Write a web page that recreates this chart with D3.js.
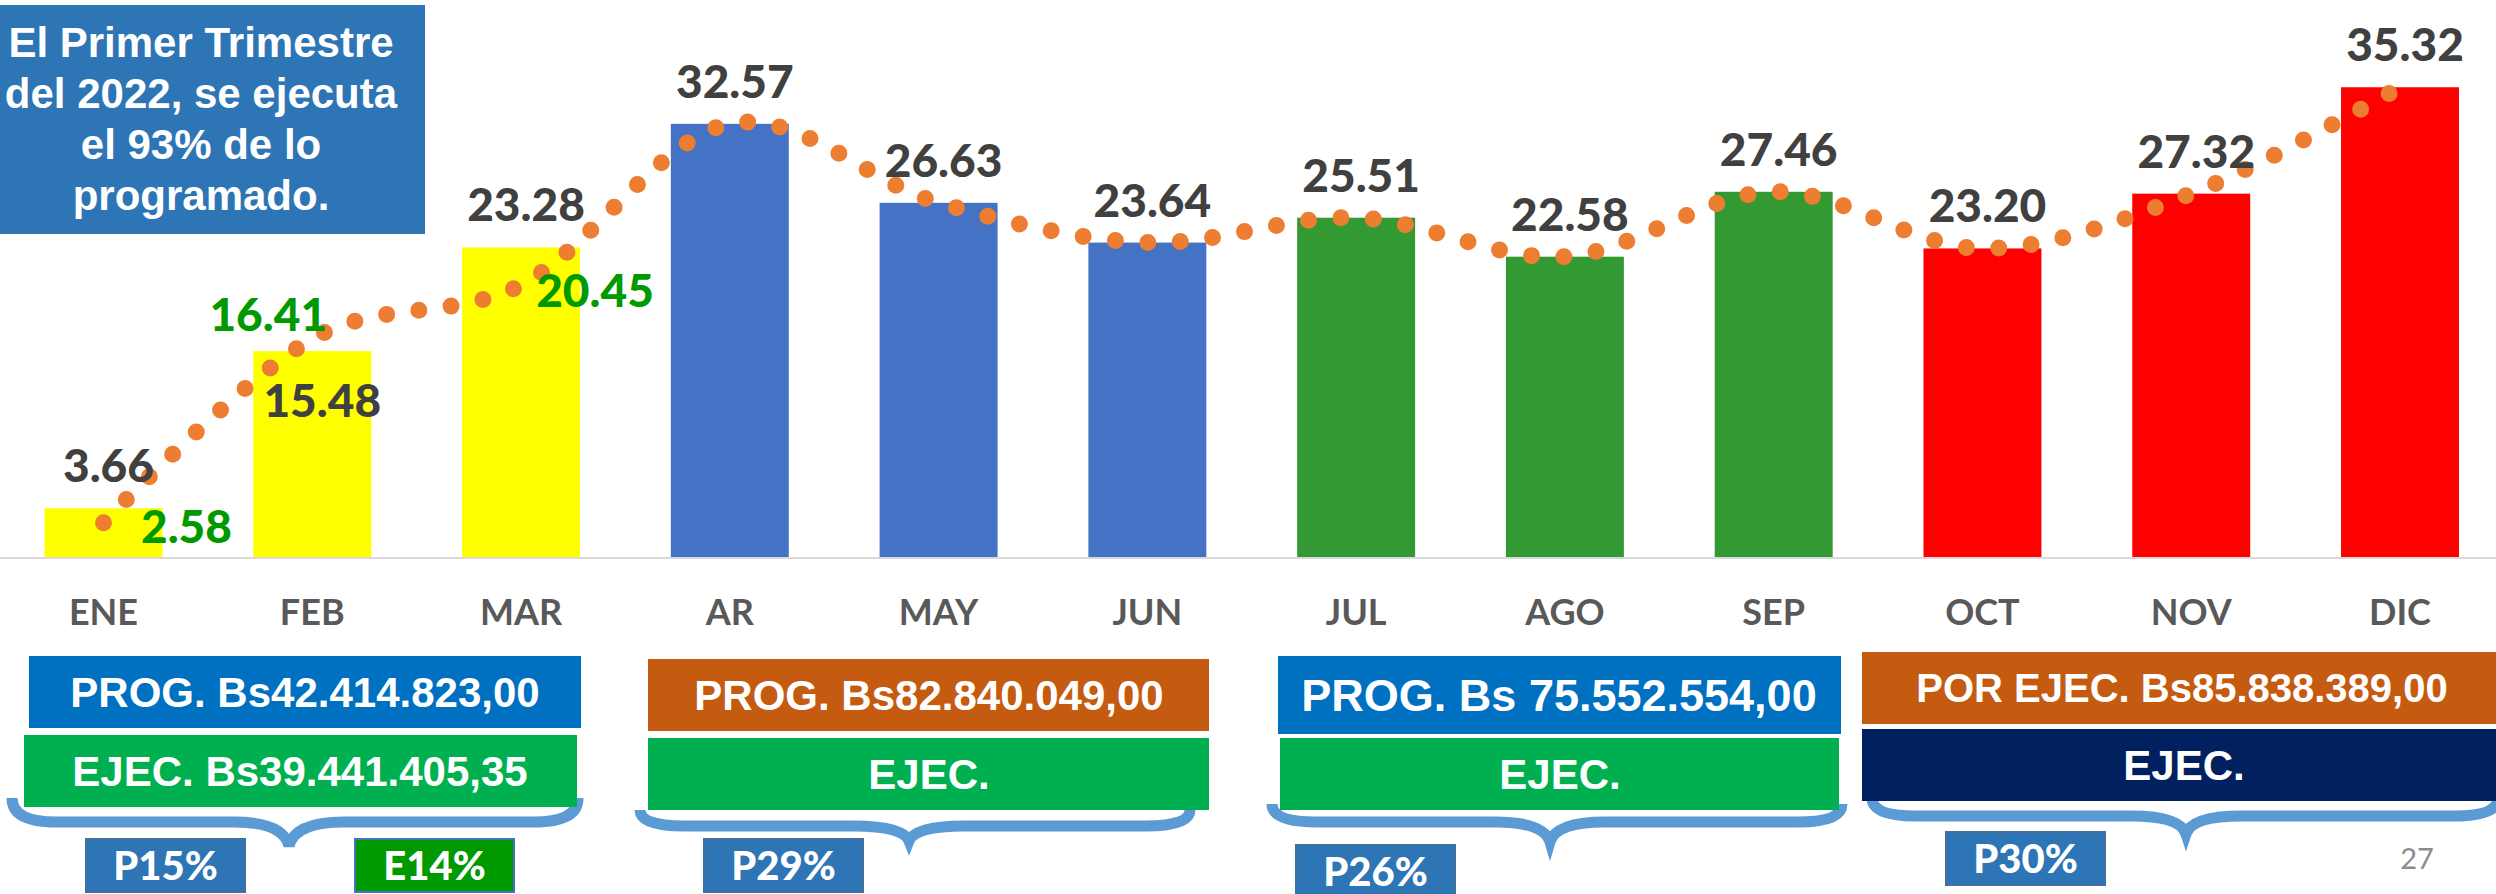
<!DOCTYPE html>
<html>
<head>
<meta charset="utf-8">
<script src="https://cdn.jsdelivr.net/npm/d3@7"></script>
<style>
  html,body{margin:0;padding:0;background:#fff;}
  svg{display:block;}
</style>
</head>
<body>
<svg id="chart" width="2496" height="894"></svg>
<script>
// ---------------- DATA ----------------
const months = ["ENE","FEB","MAR","AR","MAY","JUN","JUL","AGO","SEP","OCT","NOV","DIC"];
const programado = [3.66,15.48,23.28,32.57,26.63,23.64,25.51,22.58,27.46,23.20,27.32,35.32];
const ejecutado = [2.58,16.41,20.45];            // ENE..MAR executed
const tendencia = [2.58,16.41,20.45,32.57,26.63,23.64,25.51,22.58,27.46,23.20,27.32,35.32];
const quarterColors = ["#FFFF00","#4472C4","#339933","#FF0000"];
const titleLines = ["El Primer Trimestre","del 2022, se ejecuta","el 93% de lo","programado."];
const progTexts = ["PROG. Bs42.414.823,00","PROG. Bs82.840.049,00","PROG. Bs 75.552.554,00","POR EJEC. Bs85.838.389,00"];
const ejecTexts = ["EJEC. Bs39.441.405,35","EJEC.","EJEC.","EJEC."];
const pctTexts = ["P15%","E14%","P29%","P26%","P30%"];
const pageNumber = "27";

// ---------------- LAYOUT ----------------
const W = 2496, H = 894;
const svg = d3.select("#chart");
const x = d3.scaleBand().domain(months).range([-0.9, 2504.4]).paddingInner(0.435).paddingOuter(0.2175);
const y = d3.scaleLinear().domain([0, 40]).range([557, 25]);
const cx = m => x(m) + x.bandwidth()/2;

// label offsets (dx, dy) relative to the bar/point
const darkOffsets = months.map(() => [5, -26]);
darkOffsets[1] = [10, 66];
const greenOffsets = [[83, 20],[-44, -8],[74, 22]];

// ---------------- TITLE BOX ----------------
svg.append("rect").attr("x",0).attr("y",5).attr("width",425).attr("height",229).attr("fill","#2E75B6");
svg.append("g").selectAll("text").data(titleLines).join("text")
  .attr("x",201).attr("y",(d,i)=>57+i*51)
  .attr("text-anchor","middle").attr("fill","#fff")
  .style("font-family","'Liberation Sans', Arial, sans-serif").style("font-weight","bold").style("font-size","42px")
  .text(d=>d);

// ---------------- BARS ----------------
svg.append("g").selectAll("rect").data(programado).join("rect")
  .attr("x",(d,i)=>x(months[i])).attr("width",x.bandwidth())
  .attr("y",d=>y(d)).attr("height",d=>y(0)-y(d))
  .attr("fill",(d,i)=>quarterColors[Math.floor(i/3)]);

// axis line
svg.append("line").attr("x1",0).attr("x2",W).attr("y1",y(0)+1).attr("y2",y(0)+1)
  .attr("stroke","#D9D9D9").attr("stroke-width",2);

// month labels
svg.append("g").selectAll("text").data(months).join("text")
  .attr("x",d=>cx(d)).attr("y",625).attr("text-anchor","middle")
  .attr("fill","#595959").style("font-family","Lato, sans-serif").style("font-weight","bold").style("font-size","36px")
  .text(d=>d);

// ---------------- TREND LINE (dotted, smoothed) ----------------
const line = d3.line().x((d,i)=>cx(months[i])).y(d=>y(d)).curve(d3.curveCardinal.tension(0));
svg.append("path").attr("d",line(tendencia)).attr("fill","none")
  .attr("stroke","#ED7D31").attr("stroke-width",17).attr("stroke-linecap","round")
  .attr("stroke-dasharray","0 32.5");

// ---------------- DATA LABELS ----------------
const fmt = d3.format(".2f");
svg.append("g").selectAll("text").data(programado).join("text")
  .attr("x",(d,i)=>cx(months[i])+darkOffsets[i][0])
  .attr("y",(d,i)=>y(d)+darkOffsets[i][1])
  .attr("text-anchor","middle").attr("fill","#404040")
  .style("font-family","Lato, sans-serif").style("font-weight","900").style("font-size","46px")
  .text(d=>fmt(d));
svg.append("g").selectAll("text").data(ejecutado).join("text")
  .attr("x",(d,i)=>cx(months[i])+greenOffsets[i][0])
  .attr("y",(d,i)=>y(d)+greenOffsets[i][1])
  .attr("text-anchor","middle").attr("fill","#009A00")
  .style("font-family","Lato, sans-serif").style("font-weight","900").style("font-size","46px")
  .text(d=>fmt(d));

// ---------------- BRACES ----------------
const braces = [
  {x0:6, x1:584, yTop:798, yMid:822, c:289, yC:846},
  {x0:634, x1:1196, yTop:810, yMid:826, c:909, yC:841},
  {x0:1266, x1:1848, yTop:804, yMid:822, c:1550, yC:842},
  {x0:1866, x1:2504, yTop:798, yMid:816, c:2186, yC:834}
];
function bracePath(b){
  const s = 6;
  return `M${b.x0+s},${b.yTop} Q${b.x0+s},${b.yMid} ${b.x0+50},${b.yMid} L${b.c-55},${b.yMid} `+
         `Q${b.c-6},${b.yMid} ${b.c},${b.yC} Q${b.c+6},${b.yMid} ${b.c+55},${b.yMid} `+
         `L${b.x1-50},${b.yMid} Q${b.x1-s},${b.yMid} ${b.x1-s},${b.yTop}`;
}
svg.append("g").selectAll("path").data(braces).join("path")
  .attr("d",bracePath).attr("fill","none").attr("stroke","#5B9BD5").attr("stroke-width",11);

// ---------------- QUARTER BOXES ----------------
const progBoxes = [
  {x:29,y:656,w:552,h:72,fill:"#0070C0",fs:42,tx:305},
  {x:648,y:659,w:561,h:72,fill:"#C55A11",fs:42,tx:929},
  {x:1278,y:656,w:563,h:78,fill:"#0070C0",fs:45,tx:1559},
  {x:1862,y:652,w:640,h:72,fill:"#C55A11",fs:40,tx:2182}
];
const ejecBoxes = [
  {x:24,y:735,w:553,h:72,fill:"#00B050",fs:42,tx:300},
  {x:648,y:738,w:561,h:72,fill:"#00B050",fs:42,tx:929},
  {x:1280,y:738,w:559,h:72,fill:"#00B050",fs:42,tx:1560},
  {x:1862,y:729,w:640,h:72,fill:"#002060",fs:42,tx:2184}
];
function drawBoxes(boxes, texts){
  const g = svg.append("g");
  g.selectAll("rect").data(boxes).join("rect")
    .attr("x",d=>d.x).attr("y",d=>d.y).attr("width",d=>d.w).attr("height",d=>d.h).attr("fill",d=>d.fill);
  g.selectAll("text").data(boxes).join("text")
    .attr("x",d=>d.tx).attr("y",d=>d.y+d.h/2).attr("dy","0.36em")
    .attr("text-anchor","middle").attr("fill","#fff")
    .style("font-family","'Liberation Sans', Arial, sans-serif").style("font-weight","bold")
    .style("font-size",d=>d.fs+"px")
    .text((d,i)=>texts[i]);
}
drawBoxes(progBoxes, progTexts);
drawBoxes(ejecBoxes, ejecTexts);

// ---------------- PERCENT BOXES ----------------
const pctBoxes = [
  {x:86,y:839,fill:"#2E75B6",stroke:"#41719C"},
  {x:355,y:839,fill:"#009900",stroke:"#4472C4"},
  {x:704,y:839,fill:"#2E75B6",stroke:"#41719C"},
  {x:1296,y:845,fill:"#2E75B6",stroke:"#41719C"},
  {x:1946,y:832,fill:"#2E75B6",stroke:"#41719C"}
];
const pg = svg.append("g");
pg.selectAll("rect").data(pctBoxes).join("rect")
  .attr("x",d=>d.x).attr("y",d=>d.y).attr("width",159).attr("height",53)
  .attr("fill",d=>d.fill).attr("stroke",d=>d.stroke).attr("stroke-width",2);
pg.selectAll("text").data(pctBoxes).join("text")
  .attr("x",d=>d.x+79.5).attr("y",d=>d.y+41)
  .attr("text-anchor","middle").attr("fill","#fff")
  .style("font-family","Lato, sans-serif").style("font-weight","900").style("font-size","40px")
  .text((d,i)=>pctTexts[i]);

// page number
svg.append("text").attr("x",2417).attr("y",869).attr("text-anchor","middle")
  .attr("fill","#8C8C8C").style("font-family","Lato, sans-serif").style("font-size","29px").text(pageNumber);
</script>
</body>
</html>
